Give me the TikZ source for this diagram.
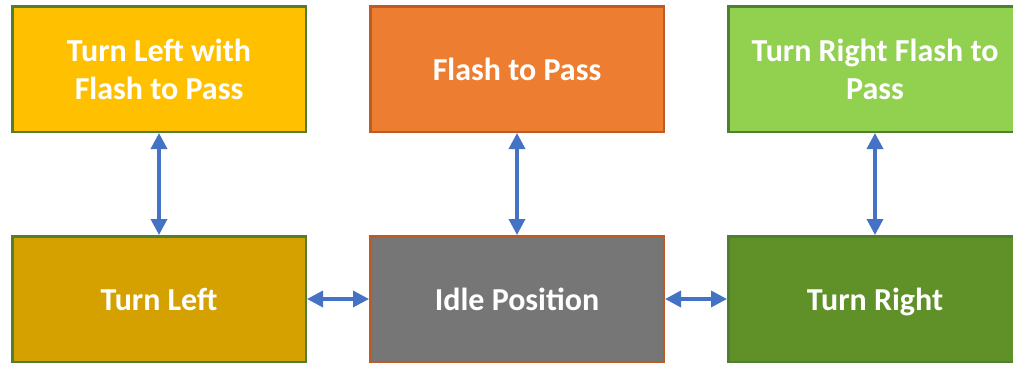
\documentclass[tikz,border=0pt]{standalone}
\usepackage{fontspec}
\setmainfont{Carlito}
\usetikzlibrary{arrows.meta}
\definecolor{cyellow}{HTML}{FFC000}
\definecolor{corange}{HTML}{ED7D31}
\definecolor{clgreen}{HTML}{92D050}
\definecolor{cgold}{HTML}{D4A100}
\definecolor{cgray}{HTML}{767676}
\definecolor{cdgreen}{HTML}{609128}
\definecolor{bgreen}{HTML}{507E32}
\definecolor{borange}{HTML}{BE5B24}
\definecolor{carrow}{HTML}{4472C4}
\tikzset{
  box/.style={draw, line width=2.5pt, minimum width=293.5pt, minimum height=125.5pt,
    inner sep=0pt, align=center, text=white, font=\fontsize{32pt}{38pt}\selectfont\bfseries},
  oneline/.style={text height=26pt, text depth=4pt},
  link/.style={draw=carrow, line width=3.5pt, {Triangle[length=16pt,width=16pt]}-{Triangle[length=16pt,width=16pt]}}
}
\begin{document}
\begin{tikzpicture}[x=1pt,y=-1pt]
\clip (0,0) rectangle (1013,365);
\node[box, fill=cyellow, draw=bgreen] (tlf) at (159,69) {Turn Left with\\Flash to Pass};
\node[box, oneline, fill=corange, draw=borange] (ftp) at (517,69) {Flash to Pass};
\node[box, fill=clgreen, draw=bgreen] (trf) at (875,69) {Turn Right Flash to\\Pass};
\node[box, oneline, fill=cgold, draw=bgreen] (tl) at (159,299) {Turn Left};
\node[box, oneline, fill=cgray, draw=borange] (idle) at (517,299) {Idle Position};
\node[box, oneline, fill=cdgreen, draw=bgreen] (tr) at (875,299) {Turn Right};
\draw[link] (tlf.south) -- (tl.north);
\draw[link] (ftp.south) -- (idle.north);
\draw[link] (trf.south) -- (tr.north);
\draw[link] (tl.east) -- (idle.west);
\draw[link] (idle.east) -- (tr.west);
\end{tikzpicture}
\end{document}
